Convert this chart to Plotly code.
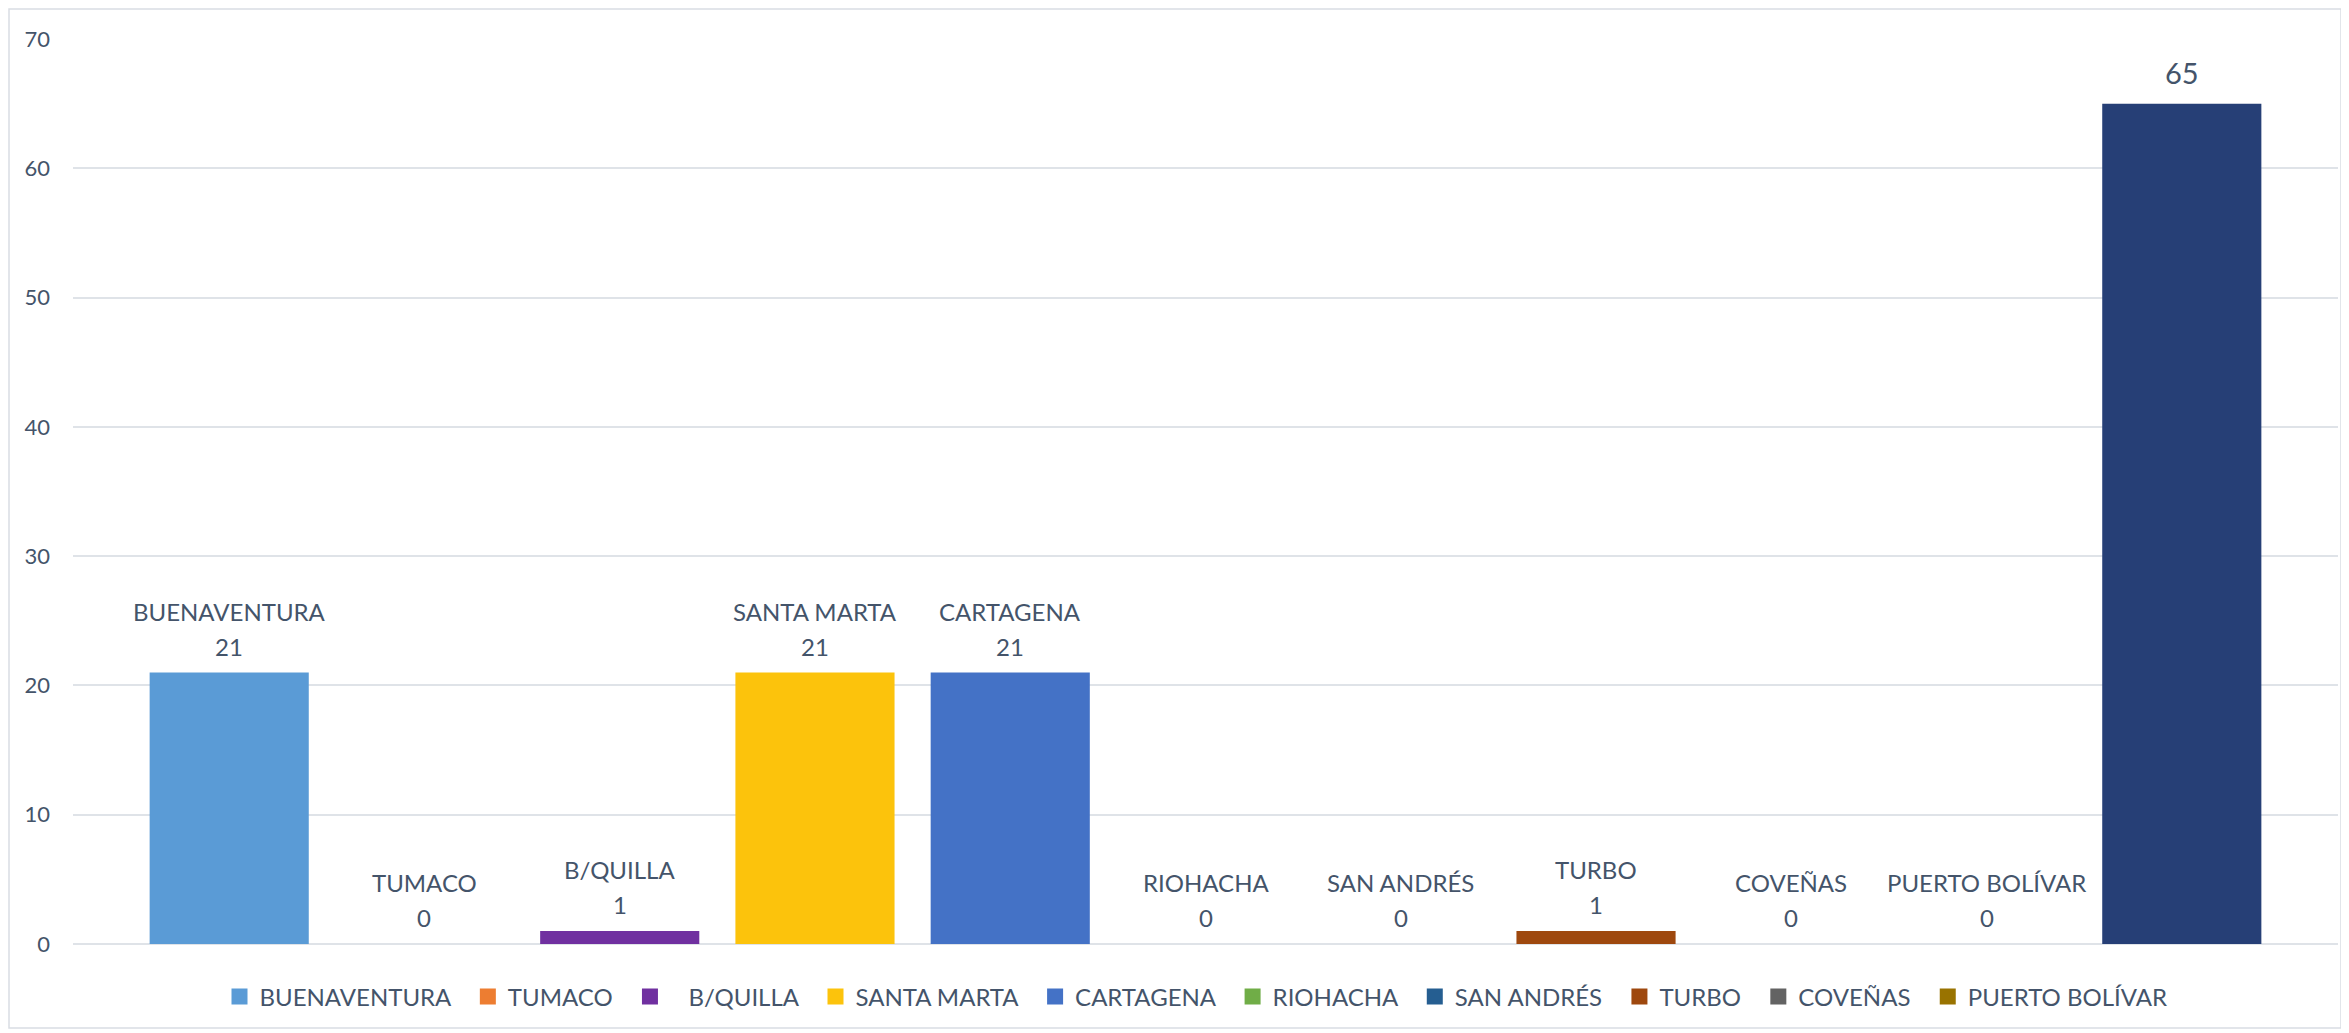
import plotly.graph_objects as go

categories = ["BUENAVENTURA", "TUMACO", "B/QUILLA", "SANTA MARTA", "CARTAGENA",
              "RIOHACHA", "SAN ANDRÉS", "TURBO", "COVEÑAS", "PUERTO BOLÍVAR", "TOTAL"]
values = [21, 0, 1, 21, 21, 0, 0, 1, 0, 0, 65]
legend_names = ["BUENAVENTURA", "TUMACO", "\u00a0\u00a0\u00a0B/QUILLA", "SANTA MARTA", "CARTAGENA",
                "RIOHACHA", "SAN ANDRÉS", "TURBO", "COVEÑAS", "PUERTO BOLÍVAR", None]
colors = ["#5a9bd6", "#ed7d31", "#7030a0", "#fcc30c", "#4472c6",
          "#70ad47", "#255e91", "#9e480e", "#636363", "#997300", "#263f76"]
y_ticks = [0, 10, 20, 30, 40, 50, 60, 70]

TEXT = "#44546a"
FONT = "Lato"
# page body has an 8px margin; figure fills the rest of the window
W, H = 2341, 1025
ML, MR, MT, MB = 65, 11, 31, 89
pw = W - ML - MR
ph = H - MT - MB

fig = go.Figure()
for i, (cat, val, col) in enumerate(zip(categories, values, colors)):
    fig.add_trace(go.Bar(
        x=[cat], y=[val], name=cat, legendgroup=cat,
        marker=dict(color=col, line=dict(width=0)),
        width=0.815, showlegend=False,
    ))
for i, (cat, col) in enumerate(zip(categories, colors)):
    if legend_names[i] is None:
        continue
    fig.add_trace(go.Scatter(
        x=[None], y=[None], mode="markers", name=legend_names[i] + "\u00a0" * 2,
        legendgroup=cat, marker=dict(symbol="square", size=17, color=col),
        hoverinfo="skip",
    ))

annotations = []
for i, (cat, val) in enumerate(zip(categories, values)):
    if legend_names[i] is None:
        annotations.append(dict(x=cat, y=val, text=str(val), showarrow=False,
                                yanchor="bottom", yshift=12,
                                font=dict(family=FONT, size=29, color=TEXT)))
    else:
        annotations.append(dict(x=cat, y=val, text=str(val), showarrow=False,
                                yanchor="bottom", yshift=10,
                                font=dict(family=FONT, size=24, color=TEXT)))
        annotations.append(dict(x=cat, y=val, text=cat, showarrow=False,
                                yanchor="bottom", yshift=45,
                                font=dict(family=FONT, size=24, color=TEXT)))

border = dict(type="rect", xref="paper", yref="paper",
              x0=(1 - ML) / pw, x1=(2333 - ML) / pw,
              y0=(H - MB - 1020) / ph, y1=(H - MB - 1) / ph,
              line=dict(color="#d9dde3", width=1.5), fillcolor="rgba(0,0,0,0)", layer="below")

fig.update_layout(
    width=W, height=H,
    margin=dict(l=ML, r=MR, t=MT, b=MB),
    paper_bgcolor="white", plot_bgcolor="white",
    barmode="overlay",
    font=dict(family=FONT, color=TEXT, size=22),
    xaxis=dict(type="category", categoryorder="array", categoryarray=categories,
               range=[-0.8, len(categories) - 0.2], showticklabels=False,
               showgrid=False, zeroline=False, showline=False, ticks=""),
    yaxis=dict(range=[0, 70], tickvals=y_ticks, showgrid=True, gridcolor="#dfe3e8",
               gridwidth=1.5, zeroline=True, zerolinecolor="#dfe3e8", zerolinewidth=1.5,
               showline=False, ticks="", ticklabelstandoff=22,
               tickfont=dict(family=FONT, size=22, color=TEXT)),
    legend=dict(orientation="h", x=(1194 - ML) / pw, xanchor="center",
                y=-(989 - (H - MB)) / ph, yanchor="middle",
                font=dict(family=FONT, size=24, color=TEXT),
                traceorder="normal", itemsizing="trace", itemwidth=30),
    showlegend=True,
    annotations=annotations,
    shapes=[border],
)

fig.write_html("out.html")
